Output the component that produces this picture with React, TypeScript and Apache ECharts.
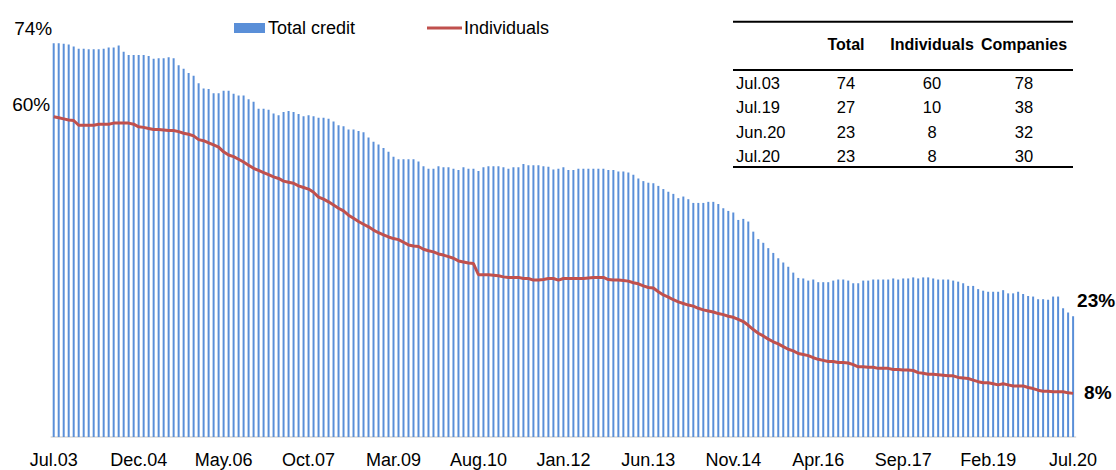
import React, { useEffect, useRef } from "react";
import * as echarts from "echarts";

const monthNames = ["Jan", "Feb", "Mar", "Apr", "May", "Jun", "Jul", "Aug", "Sep", "Oct", "Nov", "Dec"];
const startYear = 2003;
const startMonth = 6; // Jul
const monthCount = 205;

const categories: string[] = [];
for (let i = 0; i < monthCount; i++) {
  const m = (startMonth + i) % 12;
  const y = startYear + Math.floor((startMonth + i) / 12);
  categories.push(monthNames[m] + "." + String(y % 100).padStart(2, "0"));
}

const totalCredit = [
  74.0, 74.0, 73.9, 73.8, 73.4, 73.0, 73.0, 72.9, 72.9, 72.9,
  73.0, 73.2, 73.2, 73.6, 72.4, 71.8, 71.8, 71.8, 71.8, 71.6,
  71.1, 71.2, 71.2, 71.4, 71.2, 69.9, 69.2, 68.4, 67.9, 66.5,
  65.5, 65.4, 64.6, 64.6, 65.1, 65.1, 64.5, 64.2, 64.2, 63.5,
  63.0, 61.7, 61.7, 61.5, 60.8, 60.5, 61.1, 61.3, 61.1, 60.7,
  60.3, 60.5, 60.3, 60.0, 60.0, 59.8, 59.3, 58.6, 58.4, 57.8,
  57.8, 57.5, 57.3, 56.3, 55.5, 55.0, 54.3, 53.6, 52.7, 52.2,
  52.2, 52.2, 52.2, 51.8, 50.9, 50.4, 50.4, 50.9, 50.7, 50.7,
  50.4, 50.2, 50.7, 50.4, 50.4, 50.0, 50.7, 50.9, 50.9, 50.9,
  50.7, 50.4, 50.7, 50.7, 51.3, 51.1, 51.1, 51.1, 50.9, 50.8,
  50.3, 50.4, 50.7, 50.2, 50.2, 50.4, 50.4, 50.4, 50.4, 50.4,
  50.4, 50.2, 50.2, 49.9, 49.9, 49.7, 49.3, 48.6, 48.1, 47.8,
  47.7, 47.2, 46.6, 46.1, 45.7, 44.9, 45.2, 44.7, 44.0, 44.0,
  44.0, 44.2, 44.2, 43.8, 43.0, 42.5, 42.2, 40.8, 41.0, 40.5,
  38.6, 37.2, 36.5, 35.5, 34.6, 33.6, 32.8, 32.0, 30.9, 29.9,
  29.8, 29.4, 29.6, 29.1, 29.1, 29.1, 29.4, 29.6, 29.6, 29.4,
  28.9, 28.9, 29.4, 29.4, 29.6, 29.6, 29.6, 29.6, 29.8, 29.6,
  29.8, 29.8, 30.0, 29.8, 30.0, 30.0, 29.8, 29.6, 29.6, 29.6,
  29.4, 29.2, 28.9, 28.4, 28.4, 27.8, 27.5, 27.3, 27.3, 27.3,
  27.6, 27.0, 27.0, 27.3, 26.9, 26.5, 26.4, 25.9, 25.9, 25.8,
  26.4, 26.4, 24.2, 23.4, 22.7,
];

const individuals = [
  60.2, 60.0, 59.8, 59.6, 59.5, 58.6, 58.6, 58.6, 58.6, 58.8,
  58.8, 58.8, 59.0, 59.0, 59.0, 59.0, 58.8, 58.3, 58.2, 58.0,
  57.8, 57.8, 57.7, 57.6, 57.6, 57.4, 57.1, 56.9, 56.6, 55.9,
  55.7, 55.3, 54.9, 54.5, 53.6, 53.0, 52.7, 52.2, 51.7, 51.1,
  50.5, 50.1, 49.7, 49.3, 48.9, 48.6, 48.1, 47.9, 47.7, 47.2,
  46.9, 46.6, 46.0, 45.1, 44.7, 44.2, 43.6, 43.0, 42.5, 41.7,
  41.1, 40.5, 40.0, 39.5, 38.9, 38.4, 38.0, 37.6, 37.3, 37.1,
  36.6, 36.1, 35.9, 35.8, 35.3, 35.0, 34.8, 34.4, 34.2, 33.9,
  33.6, 33.1, 32.9, 32.7, 32.6, 30.5, 30.5, 30.5, 30.4, 30.3,
  30.1, 30.0, 30.0, 30.0, 29.8, 29.8, 29.5, 29.5, 29.6, 29.8,
  29.8, 29.5, 29.8, 29.8, 29.8, 29.8, 29.8, 29.9, 30.0, 30.0,
  30.0, 29.6, 29.5, 29.5, 29.4, 29.3, 29.0, 28.8, 28.4, 28.1,
  28.0, 27.3, 26.7, 26.3, 25.8, 25.4, 25.1, 24.8, 24.6, 24.2,
  23.9, 23.7, 23.5, 23.2, 23.0, 22.7, 22.5, 22.1, 21.7, 21.0,
  20.2, 19.5, 19.0, 18.4, 17.9, 17.5, 17.0, 16.5, 16.2, 15.7,
  15.5, 15.3, 14.9, 14.6, 14.4, 14.2, 14.2, 14.0, 14.0, 13.9,
  13.6, 13.2, 13.2, 13.1, 13.1, 12.9, 12.9, 12.9, 12.7, 12.7,
  12.6, 12.6, 12.5, 12.1, 12.0, 11.8, 11.8, 11.7, 11.6, 11.5,
  11.5, 11.2, 11.1, 11.0, 10.7, 10.4, 10.2, 10.2, 10.0, 9.8,
  10.0, 9.8, 9.6, 9.6, 9.6, 9.3, 9.1, 8.8, 8.6, 8.6,
  8.5, 8.5, 8.5, 8.3, 8.2,
];

const tableHeader = ["Total", "Individuals", "Companies"];
const tableDates = ["Jul.03", "Jul.19", "Jun.20", "Jul.20"];
const tableTotal = [74, 27, 23, 23];
const tableIndividuals = [60, 10, 8, 8];
const tableCompanies = [78, 38, 32, 30];

const FONT = "'Liberation Sans', Arial, Helvetica, sans-serif";
const BLUE = "#5A8FD8";
const RED = "#C0504D";

export default function App() {
  const ref = useRef<HTMLDivElement>(null);

  useEffect(() => {
    if (!ref.current) return;
    const chart = echarts.init(ref.current, null, { renderer: "svg" });
    chart.setOption({
      animation: false,
      backgroundColor: "#ffffff",
      textStyle: { fontFamily: FONT },
      grid: { left: 51.2, right: 40.4, top: 11.4, bottom: 33, containLabel: false },
      legend: [
        {
          data: ["Total credit"],
          left: 229,
          top: 14,
          padding: 5,
          itemWidth: 31,
          itemHeight: 10,
          itemGap: 0,
          icon: "rect",
          textStyle: { fontSize: 18, color: "#000", fontFamily: FONT, padding: [0, 0, 0, -2] },
        },
        {
          data: ["Individuals"],
          left: 422,
          top: 14,
          padding: 5,
          itemWidth: 35,
          itemHeight: 3,
          icon: "rect",
          textStyle: { fontSize: 18, color: "#000", fontFamily: FONT, padding: [0, 0, 0, -3] },
        },
      ],
      xAxis: {
        type: "category",
        data: categories,
        boundaryGap: true,
        axisLine: { show: true, lineStyle: { color: "#D9D9D9", width: 1.5 } },
        axisTick: { show: false },
        axisLabel: {
          interval: 16,
          fontSize: 18,
          color: "#000",
          margin: 14,
          fontFamily: FONT,
        },
        splitLine: { show: false },
      },
      yAxis: {
        type: "value",
        min: 0,
        max: 80,
        show: false,
        splitLine: { show: false },
      },
      series: [
        {
          name: "Total credit",
          type: "bar",
          data: totalCredit,
          barWidth: 2,
          itemStyle: { color: BLUE },
        },
        {
          name: "Individuals",
          type: "line",
          data: individuals,
          symbol: "none",
          lineStyle: { color: RED, width: 3 },
          itemStyle: { color: RED },
          z: 5,
        },
      ],
    });

    const toPx = (i: number, v: number) =>
      chart.convertToPixel({ xAxisIndex: 0, yAxisIndex: 0 }, [i, v]) as number[];
    const last = monthCount - 1;
    const pTotal0 = toPx(0, totalCredit[0]);
    const pInd0 = toPx(0, individuals[0]);
    const pTotalN = toPx(last, totalCredit[last]);
    const pIndN = toPx(last, individuals[last]);

    const txt = (
      text: string,
      x: number,
      y: number,
      align: string,
      size: number,
      weight: string = "normal"
    ) => ({
      type: "text",
      x,
      y,
      silent: true,
      style: {
        text,
        x: 0,
        y: 0,
        fill: "#000",
        fontSize: size,
        fontFamily: FONT,
        fontWeight: weight,
        align,
        verticalAlign: "middle",
        textAlign: align,
        textVerticalAlign: "middle",
      },
    });

    const annotations = [
      txt(Math.round(totalCredit[0]) + "%", pTotal0[0] - 1.5, pTotal0[1] - 15, "right", 19),
      txt(Math.round(individuals[0]) + "%", pInd0[0] - 3.5, pInd0[1] - 12, "right", 19),
      txt(Math.round(totalCredit[last]) + "%", pTotalN[0] + 4, pTotalN[1] - 16, "left", 19, "bold"),
      txt(Math.round(individuals[last]) + "%", pIndN[0] + 11, pIndN[1] - 1, "left", 19, "bold"),
    ];

    // table
    const tLeft = 733;
    const tRight = 1073;
    const tLines = [21.7, 70, 167];
    const headerY = 44;
    const rowY0 = 83;
    const rowStep = 24.3;
    const labelX = 736;
    const colX = [846, 932, 1024];
    const tableEls: any[] = [];
    tLines.forEach((y) => {
      tableEls.push({
        type: "line",
        silent: true,
        shape: { x1: tLeft, y1: y, x2: tRight, y2: y },
        style: { stroke: "#000", lineWidth: 2 },
      });
    });
    tableHeader.forEach((h, j) => {
      tableEls.push(txt(h, colX[j], headerY, "center", 16, "bold"));
    });
    tableDates.forEach((d, r) => {
      const y = rowY0 + r * rowStep;
      tableEls.push(txt(d, labelX, y, "left", 16.5));
      tableEls.push(txt(String(tableTotal[r]), colX[0], y, "center", 16.5));
      tableEls.push(txt(String(tableIndividuals[r]), colX[1], y, "center", 16.5));
      tableEls.push(txt(String(tableCompanies[r]), colX[2], y, "center", 16.5));
    });

    chart.setOption({ graphic: [...tableEls, ...annotations] });

    return () => chart.dispose();
  }, []);

  return (
    <div
      ref={ref}
      style={{ position: "fixed", left: 0, top: 0, width: 1116, height: 470, background: "#fff" }}
    />
  );
}
